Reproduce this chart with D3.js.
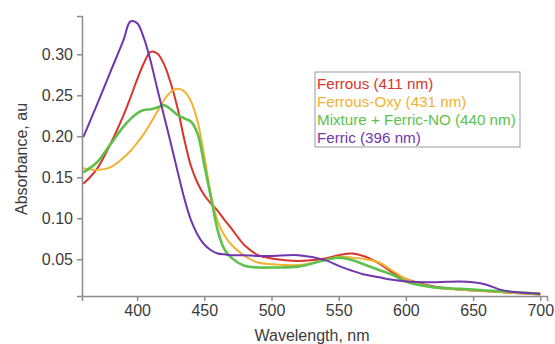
<!DOCTYPE html>
<html>
<head>
<meta charset="utf-8">
<script src="https://cdn.jsdelivr.net/npm/d3@7"></script>
<style>
    body { margin: 0; background: #fff; }
    svg { display: block; font-family: "Liberation Sans", Arial, sans-serif; }
</style>
</head>
<body>
<svg id="chart" width="555" height="344"></svg>
<script>
const wavelengths = [360, 370, 380, 390, 395, 400, 405, 410, 415, 420, 425, 430, 435, 440, 445, 450, 455, 460, 465, 470,
    480, 490, 500, 520, 540, 550, 560, 570, 580, 590, 600, 620, 640, 650, 660, 670, 680, 690, 700];

const ferrous = [0.142, 0.160, 0.190, 0.226, 0.247, 0.269, 0.289, 0.303, 0.301, 0.288, 0.265, 0.235, 0.197, 0.164, 0.143,
    0.128, 0.118, 0.109, 0.098, 0.088, 0.067, 0.055, 0.051, 0.048, 0.051, 0.055, 0.057, 0.053, 0.045, 0.034, 0.026,
    0.017, 0.013, 0.012, 0.011, 0.010, 0.009, 0.008, 0.007];
const ferrousOxy = [0.161, 0.159, 0.162, 0.174, 0.182, 0.192, 0.203, 0.216, 0.230, 0.244, 0.254, 0.258, 0.255, 0.243, 0.218,
    0.176, 0.128, 0.096, 0.079, 0.068, 0.054, 0.046, 0.044, 0.043, 0.049, 0.053, 0.052, 0.050, 0.046, 0.036, 0.026,
    0.016, 0.013, 0.012, 0.011, 0.010, 0.009, 0.008, 0.007];
const mixture = [0.156, 0.168, 0.190, 0.212, 0.221, 0.228, 0.232, 0.233, 0.235, 0.238, 0.233, 0.226, 0.222, 0.218, 0.203,
    0.165, 0.125, 0.085, 0.062, 0.052, 0.042, 0.040, 0.040, 0.041, 0.049, 0.052, 0.049, 0.043, 0.037, 0.031, 0.023,
    0.016, 0.014, 0.013, 0.012, 0.011, 0.010, 0.009, 0.008];
const ferric = [0.199, 0.238, 0.278, 0.318, 0.340, 0.338, 0.320, 0.292, 0.258, 0.225, 0.192, 0.158, 0.125, 0.098, 0.080,
    0.068, 0.061, 0.057, 0.056, 0.055, 0.055, 0.054, 0.054, 0.055, 0.049, 0.042, 0.036, 0.031, 0.028, 0.025, 0.023,
    0.022, 0.023, 0.022, 0.019, 0.013, 0.010, 0.009, 0.008];

const seriesNames = ["Ferrous (411 nm)", "Ferrous-Oxy (431 nm)", "Mixture + Ferric-NO (440 nm)", "Ferric (396 nm)"];
const seriesValues = [ferrous, ferrousOxy, mixture, ferric];
const seriesColors = ["#d8332c", "#f2b231", "#5ec14b", "#7136ad"];

const xTicks = [400, 450, 500, 550, 600, 650, 700];
const yTicks = [0.05, 0.10, 0.15, 0.20, 0.25, 0.30];

const svg = d3.select("#chart");

const x = d3.scaleLinear().domain([359, 705]).range([82, 547]);
const y = d3.scaleLinear().domain([0.0052, 0.3467]).range([296, 16]);

const axisColor = "#8c8c8c";
const textColor = "#3c3c3c";

// lines first so the axes sit on top
const line = d3.line()
    .x((d) => x(d[0]))
    .y((d) => y(d[1]))
    .curve(d3.curveCatmullRom.alpha(0.5));

svg.append("g")
    .selectAll("path")
    .data(seriesValues)
    .enter()
    .append("path")
    .attr("d", (vals) => line(wavelengths.map((w, i) => [w, vals[i]])))
    .attr("fill", "none")
    .attr("stroke", (d, i) => seriesColors[i])
    .attr("stroke-width", (d, i) => (i === 2 ? 2.6 : 2))
    .attr("stroke-linejoin", "round");

const xAxis = svg.append("g")
    .attr("transform", "translate(0,296)")
    .call(d3.axisBottom(x).tickValues(xTicks).tickSize(5).tickPadding(4).tickFormat(d3.format("d")));

const yAxis = svg.append("g")
    .attr("transform", "translate(82,0)")
    .call(d3.axisLeft(y).tickValues(yTicks).tickSize(5).tickPadding(4).tickFormat(d3.format(".2f")));

[xAxis, yAxis].forEach((g) => {
    g.select(".domain").attr("stroke", axisColor).attr("stroke-width", 1.5);
    g.selectAll(".tick line").attr("stroke", axisColor).attr("stroke-width", 1.5);
    g.selectAll(".tick text")
        .attr("fill", textColor)
        .style("font-size", "16px")
        .style("font-family", "'Liberation Sans', Arial, sans-serif");
});

svg.append("text")
    .attr("x", 312)
    .attr("y", 341)
    .attr("text-anchor", "middle")
    .attr("fill", textColor)
    .style("font-size", "16px")
    .text("Wavelength, nm");

svg.append("text")
    .attr("transform", "translate(27,159) rotate(-90)")
    .attr("text-anchor", "middle")
    .attr("fill", textColor)
    .style("font-size", "16px")
    .text("Absorbance, au");

// legend
const legend = svg.append("g");
legend.append("rect")
    .attr("x", 315)
    .attr("y", 72)
    .attr("width", 205)
    .attr("height", 75)
    .attr("fill", "#fff")
    .attr("stroke", "#9a9a9a")
    .attr("stroke-width", 1);

legend.selectAll("text")
    .data(seriesNames)
    .enter()
    .append("text")
    .attr("x", 317)
    .attr("y", (d, i) => 89 + i * 18)
    .attr("fill", (d, i) => seriesColors[i])
    .style("font-size", "15.2px")
    .text((d) => d);
</script>
</body>
</html>
